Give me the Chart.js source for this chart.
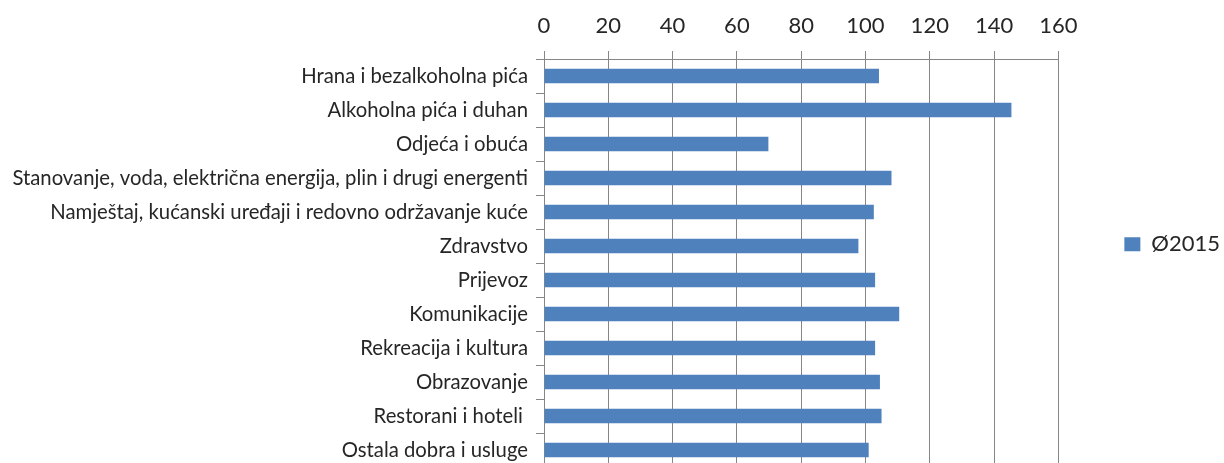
<!DOCTYPE html>
<html>
<head>
<meta charset="utf-8">
<script src="https://cdn.jsdelivr.net/npm/chart.js@4/dist/chart.umd.min.js"></script>
<style>
  html, body { margin: 0; padding: 0; background: #fff; overflow: hidden; }
  #wrap { position: relative; width: 1224px; height: 472px; }
</style>
</head>
<body>
<div id="wrap"><canvas id="chart"></canvas></div>
<script>
  const categories = [
    "Hrana i bezalkoholna pića",
    "Alkoholna pića i duhan",
    "Odjeća i obuća",
    "Stanovanje, voda, električna energija, plin i drugi energenti",
    "Namještaj, kućanski uređaji i redovno održavanje kuće",
    "Zdravstvo",
    "Prijevoz",
    "Komunikacije",
    "Rekreacija i kultura",
    "Obrazovanje",
    "Restorani i hoteli ",
    "Ostala dobra i usluge"
  ];
  const seriesName = "Ø2015";
  const values2015 = [104.2, 145.4, 69.8, 108.1, 102.6, 97.8, 103.0, 110.5, 103.0, 104.5, 105.0, 101.0];
  const axisMin = 0, axisMax = 160, axisStep = 20;

  const gridGray = "#868686";
  const textColor = "#262626";

  Chart.defaults.font.family = "Lato, 'Open Sans', sans-serif";
  Chart.defaults.color = textColor;

  new Chart(document.getElementById("chart"), {
    type: "bar",
    data: {
      labels: categories,
      datasets: [{
        label: seriesName,
        data: values2015,
        backgroundColor: "#4F81BD",
        borderWidth: 0,
        categoryPercentage: 1,
        barPercentage: 0.42
      }]
    },
    options: {
      indexAxis: "y",
      responsive: true,
      maintainAspectRatio: false,
      animation: false,
      layout: { padding: { top: 0, right: -6, bottom: 5, left: 0 } },
      plugins: {
        tooltip: { enabled: false },
        legend: {
          position: "right",
          align: "center",
          // empty title only nudges the entry down a little
          title: { display: true, text: "", padding: { top: 12, bottom: 0 }, font: { size: 8 } },
          labels: {
            boxWidth: 16,
            boxHeight: 14,
            padding: 66,
            font: { size: 22 },
            color: textColor
          }
        }
      },
      scales: {
        x: {
          position: "top",
          min: axisMin,
          max: axisMax,
          ticks: { stepSize: axisStep, padding: 12, font: { size: 22 }, color: textColor },
          grid: { color: gridGray, tickLength: 8, lineWidth: 1 },
          border: { color: gridGray },
          afterFit: (s) => { s.height = 59; s.paddingLeft = 0; s.paddingRight = 0; }
        },
        y: {
          offset: true,
          ticks: { padding: 8, font: { size: 20.3 }, color: textColor, autoSkip: false },
          grid: { offset: true, drawOnChartArea: false, color: gridGray, tickLength: 8 },
          border: { color: gridGray },
          afterFit: (s) => { s.width = 544; s.paddingTop = 0; s.paddingBottom = 0; }
        }
      }
    }
  });
</script>
</body>
</html>
